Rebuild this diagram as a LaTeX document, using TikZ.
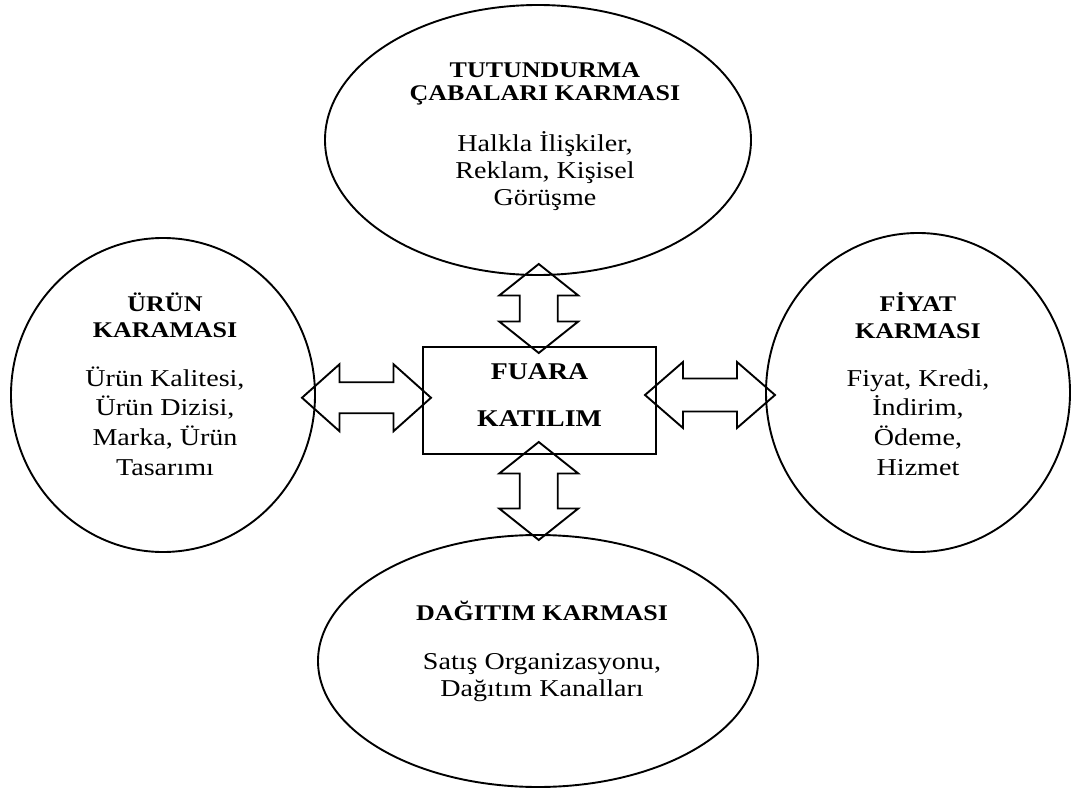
\documentclass[tikz,border=0pt]{standalone}
\usepackage{fontspec}
\setmainfont{Liberation Serif}[FakeStretch=1.16]
\usetikzlibrary{shapes.geometric,calc}

\tikzset{
  mixbox/.style={ellipse, draw, line width=1.9pt, inner sep=0pt},
  corebox/.style={rectangle, draw, line width=1.9pt, inner sep=0pt,
    minimum width=233pt, minimum height=107pt},
  hd/.style={font=\fontsize{22.4}{24}\selectfont\bfseries, anchor=base, inner sep=0pt},
  bd/.style={font=\fontsize{24.2}{28}\selectfont, anchor=base, inner sep=0pt},
  cd/.style={font=\fontsize{24}{28}\selectfont\bfseries, anchor=base, inner sep=0pt},
  % hollow two-headed block arrow along the x axis:
  % #1 length, #2 head length, #3 head half-width, #4 shaft half-width
  pics/twohead/.style n args={4}{code={
    \draw[line width=1.9pt, line join=miter]
      (-#1/2,0) -- (-#1/2+#2,#3) -- (-#1/2+#2,#4) -- (#1/2-#2,#4)
      -- (#1/2-#2,#3) -- (#1/2,0) -- (#1/2-#2,-#3) -- (#1/2-#2,-#4)
      -- (-#1/2+#2,-#4) -- (-#1/2+#2,-#3) -- cycle;
  }}
}

\begin{document}
\begin{tikzpicture}[x=1pt, y=-1pt]
\useasboundingbox (0,0) rectangle (1072,789);

% the four marketing mix groups and the centre
\node[mixbox, minimum width=426pt, minimum height=270pt] (promo) at (538,140) {};
\node[mixbox, minimum width=304pt, minimum height=314pt] (urun) at (163,395) {};
\node[mixbox, minimum width=304pt, minimum height=319pt] (fiyat) at (918,392.5) {};
\node[mixbox, minimum width=440pt, minimum height=252pt] (dagitim) at (538,661) {};
\node[corebox] (core) at (539.5,400.5) {};

% block arrows between the centre and each group
\pic[rotate=90] at ($(promo.south)!0.5!(core.north)+(0,-2.5)$) {twohead={89}{31.5}{39.5}{19}};
\pic[rotate=90] at ($(core.south)!0.5!(dagitim.north)+(0,-3.5)$) {twohead={98}{31.5}{39.5}{19}};
\pic at ($(urun.east)!0.5!(core.west)+(-2.5,0)$) {twohead={129}{37.5}{33.5}{15.5}};
\pic at ($(core.east)!0.5!(fiyat.west)+(-1,-1.5)$) {twohead={130}{38}{33}{16.5}};

% promotion mix
\node[hd] (promoH1) at (545,78) {TUTUNDURMA};
\node[hd] (promoH2) at (545,101) {ÇABALARI KARMASI};
\node[bd] (promoB1) at (545,152) {Halkla İlişkiler,};
\node[bd] (promoB2) at (545,179) {Reklam, Kişisel};
\node[bd] (promoB3) at (545,206) {Görüşme};

% product mix
\node[hd] (urunH1) at (165,311.5) {ÜRÜN};
\node[hd] (urunH2) at (165,337.5) {KARAMASI};
\node[bd] (urunB1) at (165,386.5) {Ürün Kalitesi,};
\node[bd] (urunB2) at (165,415.5) {Ürün Dizisi,};
\node[bd] (urunB3) at (165,445) {Marka, Ürün};
\node[bd] (urunB4) at (165,475) {Tasarımı};

% price mix
\node[hd] (fiyatH1) at (918,311.5) {FİYAT};
\node[hd] (fiyatH2) at (918,338) {KARMASI};
\node[bd] (fiyatB1) at (918,386.5) {Fiyat, Kredi,};
\node[bd] (fiyatB2) at (918,415) {İndirim,};
\node[bd] (fiyatB3) at (918,445) {Ödeme,};
\node[bd] (fiyatB4) at (918,475) {Hizmet};

% distribution mix
\node[hd] (dagitimH1) at (542,620.5) {DAĞITIM KARMASI};
\node[bd] (dagitimB1) at (542,669) {Satış Organizasyonu,};
\node[bd] (dagitimB2) at (542,696.5) {Dağıtım Kanalları};

% centre label
\node[cd] (coreT1) at (539.5,379) {FUARA};
\node[cd] (coreT2) at (539.5,426) {KATILIM};
\end{tikzpicture}
\end{document}
